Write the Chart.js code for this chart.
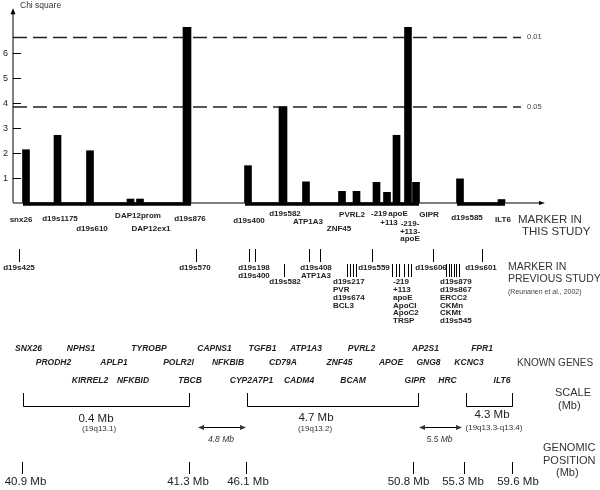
<!DOCTYPE html>
<html>
<head>
<meta charset="utf-8">
<script src="https://cdn.jsdelivr.net/npm/chart.js@4.4.0/dist/chart.umd.min.js"></script>
<style>
  html, body { margin: 0; padding: 0; background: #fff; }
  canvas { display: block; }
</style>
</head>
<body>
<canvas id="chart" width="600" height="490"></canvas>
<script>
// markers typed in this study (track position along chr19 drawing, chi square)
const markers = ['snx26', 'd19s1175', 'd19s610', 'DAP12prom', 'DAP12ex1', 'd19s876', 'd19s400', 'd19s582',
    'ATP1A3', 'ZNF45', 'PVRL2', '-219', '+113', 'apoE', '-219-+113-apoE', 'GIPR', 'd19s585', 'ILT6'];
const markerTrack = [26, 57.5, 90, 130.5, 140, 187, 248, 283, 306, 342, 356.5, 376.5, 387, 396.5, 408, 416, 460, 501.5];
const chiSquare = [2.12, 2.7, 2.08, 0.14, 0.14, 7.04, 1.48, 3.84, 0.83, 0.45, 0.45, 0.81, 0.41, 2.7, 7.04, 0.81, 0.95, 0.12];
const wideMarkers = ['d19s876', 'd19s582'];

// label placement for the markers above (center x, y lines)
const markerLabelX = [21, 60, 92, 138, 151, 190, 249, 285, 308, 339, 352, 379, 389, 398, 410, 429, 467, 503];
const markerLabelY = [220, 219, 229, 216, 229, 219, 221, 214, 222, 229, 215, 214, 223, 214, 224, 215, 218, 220];

const thresholdValues = [6.63, 3.84];
const thresholdLabels = ['0.01', '0.05'];
const yTicks = [1, 2, 3, 4, 5, 6];
const axisTrack = [13, 545];
const thickSpans = [[23, 191], [245, 419], [457, 505]];

// markers from previous study (Reunanen et al., 2002)
const prevTicks = [[19], [196], [249, 255], [284], [309, 320], [347, 350, 353, 356], [372],
    [392, 396, 399, 404, 408, 411], [433], [446, 448.5, 451, 453.5, 456, 458.5], [482]];
const prevRow = [0, 0, 0, 1, 0, 1, 0, 1, 0, 1, 0];
const prevNames = [['d19s425'], ['d19s570'], ['d19s198', 'd19s400'], ['d19s582'], ['d19s408', 'ATP1A3'],
    ['d19s217', 'PVR', 'd19s674', 'BCL3'], ['d19s559'], ['-219', '+113', 'apoE', 'ApoCI', 'ApoC2', 'TRSP'],
    ['d19s606'], ['d19s879', 'd19s867', 'ERCC2', 'CKMn', 'CKMt', 'd19s545'], ['d19s601']];
const prevLabelX = [19, 195, 254, 285, 316, 333, 374, 393, 431, 440, 481];
const prevLabelAlign = ['center', 'center', 'center', 'center', 'center', 'left', 'center', 'left', 'center', 'left', 'center'];

// known genes, three staggered rows
const geneRows = [
    ['SNX26', 'NPHS1', 'TYROBP', 'CAPNS1', 'TGFB1', 'ATP1A3', 'PVRL2', 'AP2S1', 'FPR1'],
    ['PRODH2', 'APLP1', 'POLR2I', 'NFKBIB', 'CD79A', 'ZNF45', 'APOE', 'GNG8', 'KCNC3'],
    ['KIRREL2', 'NFKBID', 'TBCB', 'CYP2A7P1', 'CADM4', 'BCAM', 'GIPR', 'HRC', 'ILT6']
];
const geneTrack = [
    [28.5, 81, 149, 214.5, 262.5, 306, 361.5, 425.5, 482],
    [53.5, 114, 178.5, 228, 283, 339.5, 391, 428.5, 469],
    [90, 133, 190, 251.5, 299, 353, 415, 447.5, 502]
];
const geneRowY = [349, 363, 381];

// scale brackets and gaps
const scaleSpans = [[23, 189], [247, 418], [466, 512]];
const scaleSizes = ['0.4 Mb', '4.7 Mb', '4.3 Mb'];
const scaleBands = ['(19q13.1)', '(19q13.2)', '(19q13.3-q13.4)'];
const gapSpans = [[198, 246], [419, 462]];
const gapSizes = ['4.8 Mb', '5.5 Mb'];

// genomic positions (tick track, label center)
const positionTrack = [22, 189, 246, 413, 464, 512];
const positionLabelX = [25.5, 188, 248, 408.5, 463, 518];
const positionLabels = ['40.9 Mb', '41.3 Mb', '46.1 Mb', '50.8 Mb', '55.3 Mb', '59.6 Mb'];

const FONT = '"Liberation Sans", Arial, Helvetica, sans-serif';

function text(ctx, s, px, py, font, color, align) {
    ctx.font = font;
    ctx.fillStyle = color || '#111';
    ctx.textAlign = align || 'center';
    ctx.textBaseline = 'middle';
    ctx.fillText(s, px, py);
}

function seg(ctx, x1, y1, x2, y2) {
    ctx.beginPath();
    ctx.moveTo(x1, y1);
    ctx.lineTo(x2, y2);
    ctx.stroke();
}

function arrowHead(ctx, tx, ty, dx, dy, len, half) {
    // dx,dy: unit direction of the arrow
    ctx.beginPath();
    ctx.moveTo(tx, ty);
    ctx.lineTo(tx - dx * len - dy * half, ty - dy * len + dx * half);
    ctx.lineTo(tx - dx * len + dy * half, ty - dy * len - dx * half);
    ctx.closePath();
    ctx.fill();
}

const overlay = {
    id: 'overlay',
    beforeDatasetsDraw(chart) {
        const {ctx, scales: {x, y}} = chart;
        ctx.save();
        ctx.strokeStyle = '#000';
        ctx.fillStyle = '#000';
        ctx.lineWidth = 1;
        const ax = x.getPixelForValue(axisTrack[0]);
        const y0 = y.getPixelForValue(0);
        const yTop = y.getPixelForValue(7.8);
        // y axis + arrow
        seg(ctx, ax, y0, ax, yTop + 4);
        arrowHead(ctx, ax, yTop, 0, -1, 6, 2.5);
        // baseline + arrow
        const xEnd = x.getPixelForValue(axisTrack[1]);
        seg(ctx, ax, y0 + 0.5, xEnd - 4, y0 + 0.5);
        arrowHead(ctx, xEnd, y0 + 0.5, 1, 0, 6, 2);
        // y ticks
        yTicks.forEach(v => {
            const py = Math.round(y.getPixelForValue(v)) + 0.5;
            seg(ctx, ax, py, ax + 8, py);
            text(ctx, String(v), ax - 5, py, '9px ' + FONT, '#222', 'right');
        });
        ctx.restore();
    },
    afterDatasetsDraw(chart) {
        const {ctx, scales: {x, y}} = chart;
        ctx.save();
        ctx.strokeStyle = '#000';
        ctx.fillStyle = '#000';
        ctx.lineWidth = 1;

        text(ctx, 'Chi square', 20, 6, '8.5px ' + FONT, '#333', 'left');
        thresholdValues.forEach((v, i) => {
            text(ctx, thresholdLabels[i], x.getPixelForValue(527), y.getPixelForValue(v), '7.5px ' + FONT, '#444', 'left');
        });

        // markers in this study
        const mFont = 'bold 8px ' + FONT;
        markers.forEach((m, i) => {
            const px = x.getPixelForValue(markerLabelX[i]);
            if (m === '-219-+113-apoE') {
                ['-219-', '+113-', 'apoE'].forEach((s, k) => text(ctx, s, px, markerLabelY[i] + k * 7.5, mFont, '#222'));
            } else {
                text(ctx, m, px, markerLabelY[i], mFont, '#222');
            }
        });
        text(ctx, 'MARKER IN', 518, 220, '11.5px ' + FONT, '#333', 'left');
        text(ctx, 'THIS STUDY', 522, 232, '11.5px ' + FONT, '#333', 'left');

        // markers in previous study
        prevTicks.forEach((ticks, i) => {
            const top = prevRow[i] === 0 ? 249 : 264;
            ticks.forEach(t => {
                const px = Math.round(x.getPixelForValue(t)) + 0.5;
                seg(ctx, px, top, px, top + 13);
            });
            const startY = prevRow[i] === 0 ? 268 : 282;
            prevNames[i].forEach((s, k) => {
                text(ctx, s, x.getPixelForValue(prevLabelX[i]), startY + k * 7.8, mFont, '#222', prevLabelAlign[i]);
            });
        });
        text(ctx, 'MARKER IN', 508, 267, '10.5px ' + FONT, '#333', 'left');
        text(ctx, 'PREVIOUS STUDY', 508, 279, '10.5px ' + FONT, '#333', 'left');
        text(ctx, '(Reunanen et al., 2002)', 508, 292, '7px ' + FONT, '#444', 'left');

        // known genes
        geneRows.forEach((row, r) => {
            row.forEach((g, k) => {
                text(ctx, g, x.getPixelForValue(geneTrack[r][k]), geneRowY[r], 'italic bold 8.5px ' + FONT, '#222');
            });
        });
        text(ctx, 'KNOWN GENES', 517, 363, '10px ' + FONT, '#333', 'left');

        // scale brackets
        scaleSpans.forEach((s, i) => {
            const a = Math.round(x.getPixelForValue(s[0])) + 0.5;
            const b = Math.round(x.getPixelForValue(s[1])) + 0.5;
            ctx.beginPath();
            ctx.moveTo(a, 393);
            ctx.lineTo(a, 406.5);
            ctx.lineTo(b, 406.5);
            ctx.lineTo(b, 393);
            ctx.stroke();
        });
        text(ctx, scaleSizes[0], 96, 419, '11.5px ' + FONT, '#222');
        text(ctx, scaleBands[0], 99, 429, '8px ' + FONT, '#333');
        text(ctx, scaleSizes[1], 316, 418, '11.5px ' + FONT, '#222');
        text(ctx, scaleBands[1], 315, 429, '8px ' + FONT, '#333');
        text(ctx, scaleSizes[2], 492, 415, '11.5px ' + FONT, '#222');
        text(ctx, scaleBands[2], 494, 428, '8px ' + FONT, '#333');
        text(ctx, 'SCALE', 555, 393, '11px ' + FONT, '#333', 'left');
        text(ctx, '(Mb)', 558, 406, '11px ' + FONT, '#333', 'left');

        // gaps between regions
        gapSpans.forEach((s, i) => {
            const a = x.getPixelForValue(s[0]);
            const b = x.getPixelForValue(s[1]);
            seg(ctx, a + 4, 427.5, b - 4, 427.5);
            arrowHead(ctx, a, 427.5, -1, 0, 6, 2.5);
            arrowHead(ctx, b, 427.5, 1, 0, 6, 2.5);
            text(ctx, gapSizes[i], (a + b) / 2 - 1, 440, 'italic 8.5px ' + FONT, '#333');
        });

        // genomic positions
        positionTrack.forEach((t, i) => {
            const px = Math.round(x.getPixelForValue(t)) + 0.5;
            seg(ctx, px, 462, px, 474);
            text(ctx, positionLabels[i], x.getPixelForValue(positionLabelX[i]), 482, '11.5px ' + FONT, '#222');
        });
        text(ctx, 'GENOMIC', 543, 448, '11px ' + FONT, '#333', 'left');
        text(ctx, 'POSITION', 543, 461, '11px ' + FONT, '#333', 'left');
        text(ctx, '(Mb)', 556, 473, '11px ' + FONT, '#333', 'left');
        ctx.restore();
    }
};

const isWide = m => wideMarkers.includes(m);
const datasets = [{
    type: 'bar',
    data: markerTrack.map((t, i) => ({x: t, y: chiSquare[i]})).filter((d, i) => !isWide(markers[i])),
    backgroundColor: '#000',
    borderWidth: 0,
    barThickness: 7,
    grouped: false,
    order: 1
}, {
    type: 'bar',
    data: markerTrack.map((t, i) => ({x: t, y: chiSquare[i]})).filter((d, i) => isWide(markers[i])),
    backgroundColor: '#000',
    borderWidth: 0,
    barThickness: 8,
    grouped: false,
    order: 1
}];
thresholdValues.forEach(v => {
    datasets.push({
        type: 'line',
        data: [{x: axisTrack[0], y: v}, {x: 521, y: v}],
        borderColor: '#222',
        borderWidth: 1.5,
        borderDash: [14, 6],
        pointRadius: 0,
        order: 2
    });
});
thickSpans.forEach(s => {
    datasets.push({
        type: 'line',
        data: [{x: s[0], y: -0.06}, {x: s[1], y: -0.06}],
        borderColor: '#000',
        borderWidth: 3.5,
        borderCapStyle: 'butt',
        pointRadius: 0,
        order: 0
    });
});

new Chart(document.getElementById('chart'), {
    type: 'bar',
    data: {datasets: datasets},
    options: {
        responsive: false,
        animation: false,
        devicePixelRatio: 1,
        layout: {padding: 0},
        plugins: {legend: {display: false}, tooltip: {enabled: false}},
        scales: {
            x: {type: 'linear', display: false, min: 0, max: 600, offset: false},
            y: {type: 'linear', display: false, min: -11.546, max: 8.133}
        }
    },
    plugins: [overlay]
});
</script>
</body>
</html>
